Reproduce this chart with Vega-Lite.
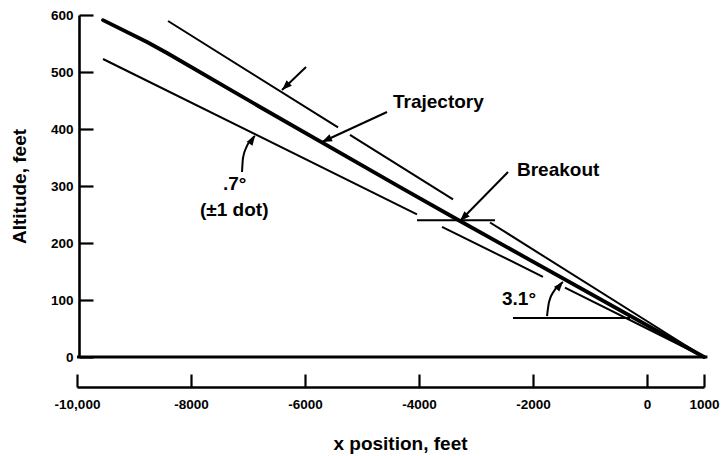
{
  "$schema": "https://vega.github.io/schema/vega-lite/v6.json",
  "width": 627,
  "height": 342,
  "autosize": {"type": "none"},
  "padding": {"left": 77, "top": 15, "right": 23, "bottom": 99},
  "background": "white",
  "config": {
    "view": {"stroke": null},
    "axis": {
      "grid": false,
      "domainColor": "black",
      "tickColor": "black",
      "labelColor": "black",
      "titleColor": "black",
      "labelFont": "Liberation Sans",
      "titleFont": "Liberation Sans",
      "labelFontWeight": "bold",
      "titleFontWeight": "bold"
    }
  },
  "datasets": {
    "thin": [
      {"id": "u1", "x": -8403, "y": 589.5}, {"id": "u1", "x": -5421, "y": 402.8},
      {"id": "u2", "x": -5211, "y": 389.7}, {"id": "u2", "x": -3403, "y": 276.7},
      {"id": "u3", "x": -2754, "y": 236.0}, {"id": "u3", "x": 1000, "y": 0},
      {"id": "l1", "x": -9544, "y": 522.8}, {"id": "l1", "x": -4035, "y": 250.2},
      {"id": "l2", "x": -3596, "y": 228.4}, {"id": "l2", "x": -1825, "y": 140.7},
      {"id": "l3", "x": -1439, "y": 121.6}, {"id": "l3", "x": 1000, "y": 0},
      {"id": "hb", "x": -4035, "y": 240}, {"id": "hb", "x": -2667, "y": 240},
      {"id": "hr", "x": -2351, "y": 68.4}, {"id": "hr", "x": -298, "y": 68.4},
      {"id": "a1", "x": -5982, "y": 508.8}, {"id": "a1", "x": -6403, "y": 468.4},
      {"id": "a2", "x": -4561, "y": 429.8}, {"id": "a2", "x": -5702, "y": 377.2},
      {"id": "a3", "x": -2438, "y": 324.6}, {"id": "a3", "x": -3281, "y": 238.6}
    ],
    "traj": [
      {"x": -9544, "y": 591}, {"x": -8772, "y": 552.6}, {"x": -8421, "y": 533.3},
      {"x": -6789, "y": 438.6}, {"x": -4333, "y": 298.2}, {"x": -3281, "y": 238.6},
      {"x": 1000, "y": 0}
    ],
    "base": [{"x": -10000, "y": 0}, {"x": 1060, "y": 0}],
    "curve": [
      {"id": "c1", "x": -7105, "y": 324.6}, {"id": "c1", "x": -7088, "y": 349.1},
      {"id": "c1", "x": -7018, "y": 370.2}, {"id": "c1", "x": -6877, "y": 387.7},
      {"id": "c2", "x": -1754, "y": 71.9}, {"id": "c2", "x": -1719, "y": 96.5},
      {"id": "c2", "x": -1631, "y": 115.8}, {"id": "c2", "x": -1474, "y": 131.6}
    ],
    "labels": [
      {"label": "Trajectory", "x": -4456, "y": 447.4},
      {"label": "Breakout", "x": -2281, "y": 328.1},
      {"label": ".7°", "x": -7439, "y": 303.5},
      {"label": "(±1 dot)", "x": -7842, "y": 257.9},
      {"label": "3.1°", "x": -2544, "y": 101.8}
    ]
  },
  "encoding": {
    "x": {
      "field": "x", "type": "quantitative",
      "scale": {"domain": [-10000, 1000], "nice": false, "zero": false},
      "axis": {
        "values": [-10000, -8000, -6000, -4000, -2000, 0, 1000],
        "labelExpr": "datum.value == -10000 ? '-10,000' : '' + datum.value",
        "tickSize": -13, "tickWidth": 2.2, "domainWidth": 2.6,
        "offset": 30, "labelPadding": 23, "labelFontSize": 13.5,
        "labelFlush": false, "labelOverlap": false,
        "title": "x position, feet", "titleFontSize": 19,
        "titleX": 323, "titleY": 56, "titleBaseline": "middle", "titleAlign": "center"
      }
    },
    "y": {
      "field": "y", "type": "quantitative",
      "scale": {"domain": [0, 600], "nice": false, "zero": false},
      "axis": {
        "values": [0, 100, 200, 300, 400, 500, 600],
        "tickSize": -14, "tickWidth": 2.2, "domainWidth": 2.6,
        "offset": -2, "labelPadding": 20, "labelFontSize": 13.5,
        "labelFlush": false,
        "title": "Altitude, feet", "titleFontSize": 19,
        "titleX": -60, "titleY": 171, "titleBaseline": "middle", "titleAlign": "center"
      }
    }
  },
  "layer": [
    {
      "data": {"name": "thin"},
      "mark": {"type": "line", "color": "black", "strokeWidth": 2, "strokeCap": "butt"},
      "encoding": {"detail": {"field": "id"}}
    },
    {
      "data": {"name": "traj"},
      "mark": {"type": "line", "color": "black", "strokeWidth": 3.8, "strokeCap": "round"}
    },
    {
      "data": {"name": "base"},
      "mark": {"type": "line", "color": "black", "strokeWidth": 2.8}
    },
    {
      "data": {"name": "curve"},
      "mark": {"type": "line", "color": "black", "strokeWidth": 2, "interpolate": "monotone"},
      "encoding": {"detail": {"field": "id"}}
    },
    {
      "data": {"values": [{"x": -6403, "y": 468.4}]},
      "mark": {"type": "point", "filled": true, "color": "black", "opacity": 1, "shape": "M0,0L0.75,2L-0.75,2Z", "size": 100, "angle": 226}
    },
    {
      "data": {"values": [{"x": -5702, "y": 377.2}]},
      "mark": {"type": "point", "filled": true, "color": "black", "opacity": 1, "shape": "M0,0L0.75,2L-0.75,2Z", "size": 100, "angle": 245}
    },
    {
      "data": {"values": [{"x": -3281, "y": 238.6}]},
      "mark": {"type": "point", "filled": true, "color": "black", "opacity": 1, "shape": "M0,0L0.75,2L-0.75,2Z", "size": 100, "angle": 225}
    },
    {
      "data": {"values": [{"x": -6877, "y": 387.7}]},
      "mark": {"type": "point", "filled": true, "color": "black", "opacity": 1, "shape": "M0,0L0.75,2L-0.75,2Z", "size": 90, "angle": 35}
    },
    {
      "data": {"values": [{"x": -1474, "y": 131.6}]},
      "mark": {"type": "point", "filled": true, "color": "black", "opacity": 1, "shape": "M0,0L0.75,2L-0.75,2Z", "size": 90, "angle": 42}
    },
    {
      "data": {"name": "labels"},
      "mark": {"type": "text", "font": "Liberation Sans", "fontWeight": "bold", "fontSize": 19, "align": "left", "baseline": "middle", "color": "black"},
      "encoding": {"text": {"field": "label"}}
    }
  ]
}
